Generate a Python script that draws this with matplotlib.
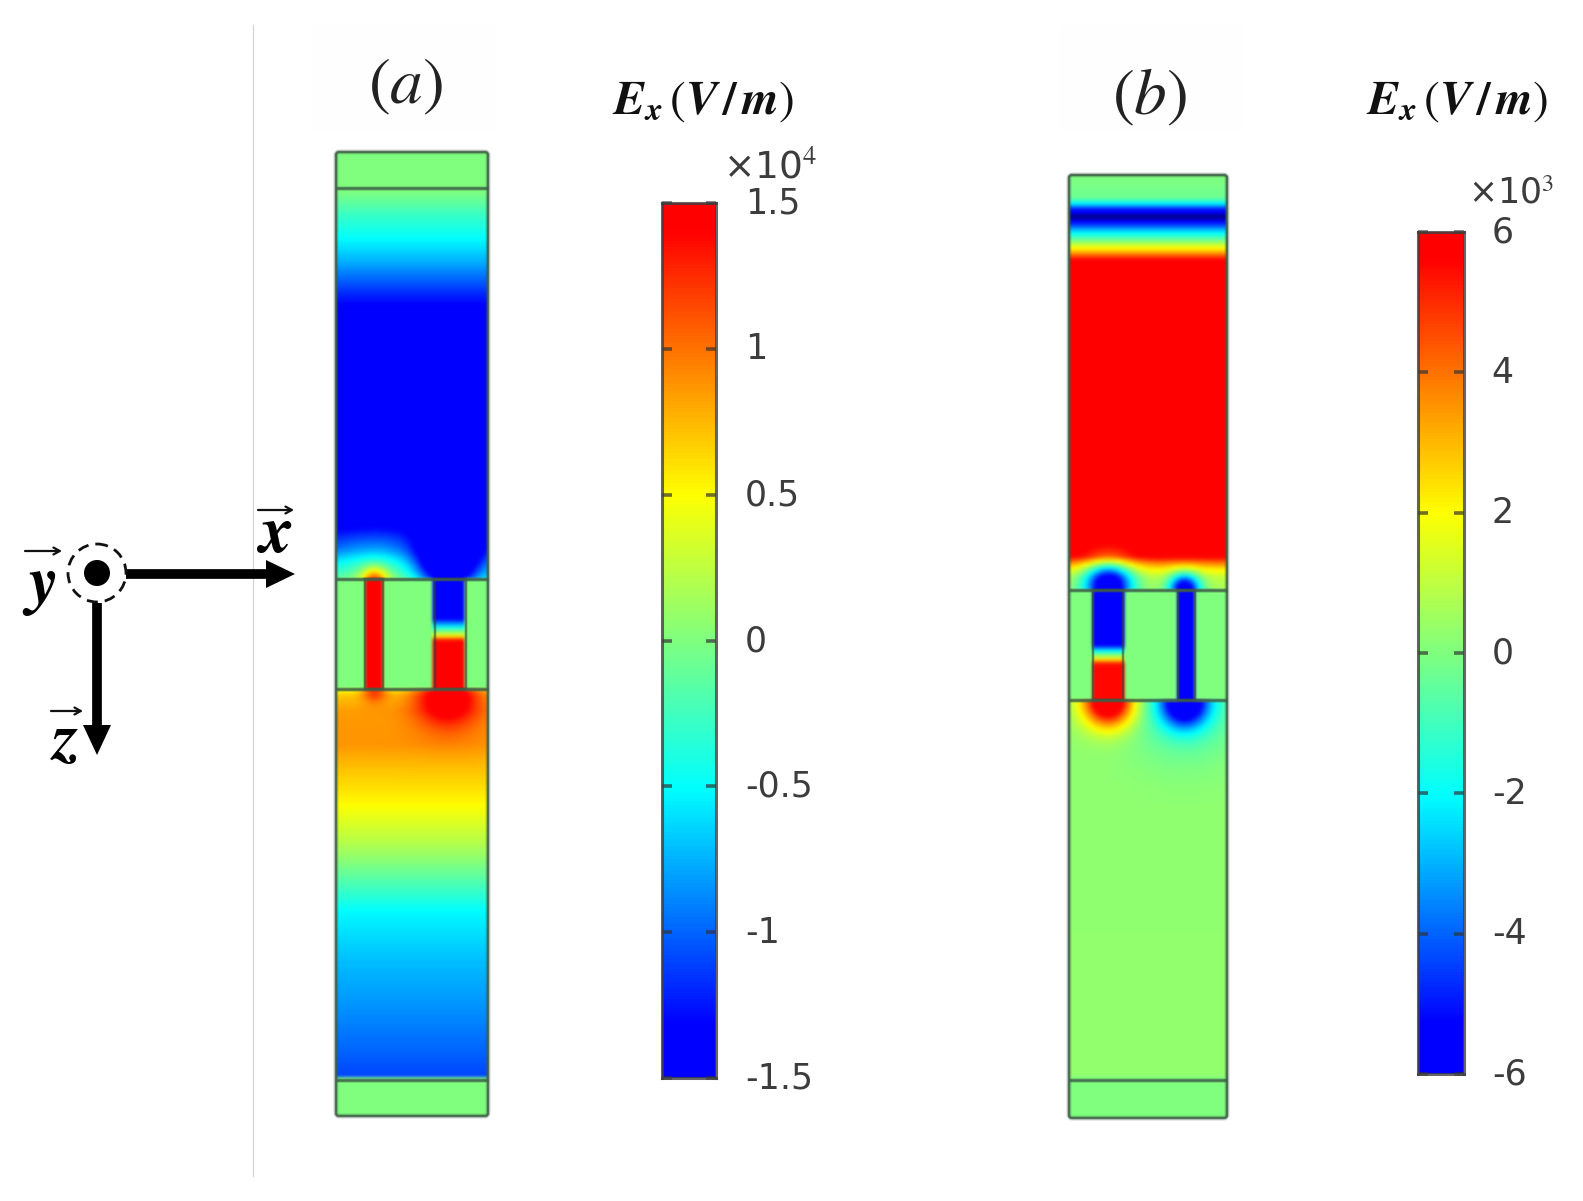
import numpy as np
import matplotlib
matplotlib.use("Agg")
import matplotlib.pyplot as plt
from matplotlib.colors import LinearSegmentedColormap
from matplotlib.patches import Circle, FancyBboxPatch, Rectangle
from matplotlib.transforms import ScaledTranslation

W, H = 1583, 1201
plt.rcParams['mathtext.fontset'] = 'stix'

# ---------- data (depth z, field value) ----------
A_Z = [152, 188, 195, 215, 235, 260, 290, 310, 330, 515, 530, 550, 565, 579]
A_V = [0, 0, -0.05, -0.3, -0.48, -0.75, -1.15, -1.4, -1.5, -1.5, -1.38, -1.05, -0.65, -0.35]
A_LOW_Z = [689, 697, 712, 745, 770, 808, 855, 885, 915, 960, 1010, 1060, 1079]
A_LOW_V = [0.42, 0.7, 0.85, 0.88, 0.72, 0.5, 0.12, -0.2, -0.52, -0.7, -0.85, -1.02, -1.1]
A_SLIT1_Z = [579, 689]
A_SLIT1_V = [1.5, 1.5]
A_SLIT2_Z = [579, 618, 628, 637, 642, 689]
A_SLIT2_V = [-1.5, -1.5, -0.5, 0.5, 1.5, 1.5]
A_BUMPS_UP = [(374, 581, 1.05, 9), (374, 581, 0.45, 30), (450, 563, -1.7, 21)]
A_BUMPS_LOW = [(374, 689, 0.7, 9), (449, 692, 1.1, 23)]
A_TICKS = [-1.5, -1, -0.5, 0, 0.5, 1, 1.5]
A_TICKLABELS = ['-1.5', '-1', '-0.5', '0', '0.5', '1', '1.5']

B_Z = [175, 197, 203, 208, 215, 222, 230, 238, 245, 250, 255, 260, 557, 563, 570, 578, 590]
B_V = [0, -0.3, -2.5, -5, -7, -5, -2.5, -0.5, 1.5, 2.8, 4.5, 6, 6, 4, 2.2, 1.0, 0.6]
B_LOW_Z = [700, 1079]
B_LOW_V = [0.25, 0.3]
B_SLIT1_Z = [590, 645, 652, 660, 665, 700]
B_SLIT1_V = [-6, -6, -2, 2, 5.5, 5.5]
B_SLIT2_Z = [590, 700]
B_SLIT2_V = [-6, -6]
B_BUMPS_UP = [(1108, 586, -8.0, 17), (1186, 590, -7.5, 11)]
B_BUMPS_LOW = [(1108, 702, 8.0, 18), (1186, 704, -7.0, 17), (1186, 704, -1.5, 38)]
B_TICKS = [-6, -4, -2, 0, 2, 4, 6]
B_TICKLABELS = ['-6', '-4', '-2', '0', '2', '4', '6']

cmap = LinearSegmentedColormap.from_list('rainbow_comsol', [
    (0.0, (0.0, 0.0, 1.0)), (0.06, (0.0, 0.0, 1.0)), (0.33, (0.0, 1.0, 1.0)),
    (0.5, (0.5, 1.0, 0.5)), (0.667, (1.0, 1.0, 0.0)), (0.97, (1.0, 0.0, 0.0)), (1.0, (1.0, 0.0, 0.0))])
cmap.set_under((0.0, 0.0, 0.62))

GRAY = '#3c3c3c'
EDGE = '#3f5f48'


def axes_px(x0, y0, x1, y1, **kw):
    return fig.add_axes([x0 / W, 1 - y1 / H, (x1 - x0) / W, (y1 - y0) / H], **kw)


def field(xb, zb, iface, up, low, slits, bup, blow, vmax):
    xs = np.arange(xb[0], xb[1] + 3, 3.0)
    zs = np.arange(zb[0], zb[1] + 3, 3.0)
    X, Z = np.meshgrid(xs, zs)
    F = np.zeros_like(X)
    P = np.zeros_like(X)
    top = Z < iface[0]
    mid = (Z >= iface[0]) & (Z <= iface[1])
    bot = (Z > iface[1]) & (Z <= iface[2])
    P[top] = np.interp(Z[top], up[0], up[1])
    P[bot] = np.interp(Z[bot], low[0], low[1])
    F += P
    for (bx, bz, a, s) in bup:
        F[top] += (a * np.exp(-((X - bx) ** 2 + (Z - bz) ** 2) / (2 * s ** 2)))[top]
    for (bx, bz, a, s) in blow:
        F[bot] += (a * np.exp(-((X - bx) ** 2 + (Z - bz) ** 2) / (2 * s ** 2)))[bot]
    for (sx0, sx1, sz, sv) in slits:
        m = mid & (X >= sx0) & (X <= sx1)
        F[m] = np.interp(Z[m], sz, sv)
    F = np.maximum(np.minimum(F, vmax), np.minimum(P, -vmax))
    return F


def panel(box, iface, extra_line, up, low, slits, bup, blow, vmax):
    x0, y0, x1, y1 = box
    ax = axes_px(x0 - 6, y0 - 6, x1 + 6, y1 + 6)
    F = field((x0, x1), (y0, y1), iface, up, low,
              [(s[0], s[1], s[2], s[3]) for s in slits], bup, blow, vmax)
    ax.imshow(F, extent=(x0, x1, y1, y0), cmap=cmap, vmin=-vmax, vmax=vmax,
              interpolation='bicubic', aspect='auto')
    ax.set_xlim(x0 - 6, x1 + 6)
    ax.set_ylim(y1 + 6, y0 - 6)
    ax.axis('off')
    for lw, alpha in [(3.6, 0.25), (1.8, 0.85)]:
        ax.add_patch(FancyBboxPatch((x0, y0), x1 - x0, y1 - y0,
                                    boxstyle='round,pad=0,rounding_size=3',
                                    fc='none', ec=EDGE, lw=lw, alpha=alpha))
        for zl in list(iface[:2]) + extra_line:
            ax.plot([x0, x1], [zl, zl], color=EDGE, lw=lw, alpha=alpha, solid_capstyle='butt')
        for s in slits:
            ax.add_patch(Rectangle((s[0], iface[0]), s[1] - s[0], iface[1] - iface[0], fc='none',
                                   ec='#2f3f2f', lw=lw * 0.8, alpha=alpha * 0.6))
    return ax


def colorbar(box, vmax, ticks, labels, pad):
    x0, y0, x1, y1 = box
    ax = axes_px(x0, y0, x1, y1)
    g = np.linspace(-vmax, vmax, 256).reshape(-1, 1)
    ax.imshow(g, extent=(0, 1, -vmax, vmax), origin='lower', cmap=cmap, vmin=-vmax, vmax=vmax,
              aspect='auto')
    ax.set_xticks([])
    ax.set_yticks(ticks)
    ax.set_yticklabels(labels)
    ax.yaxis.set_ticks_position('both')
    ax.tick_params(axis='y', direction='in', length=7, width=2.6, color=(0.2, 0.2, 0.2, 0.7),
                   left=True, right=True, labelleft=False, labelright=True, labelsize=25,
                   labelcolor=GRAY, pad=pad)
    shift = ScaledTranslation(0, 3 / 100, fig.dpi_scale_trans)
    for lab in ax.get_yticklabels():
        lab.set_transform(lab.get_transform() + shift)
    for sp in ax.spines.values():
        sp.set_color((0.25, 0.25, 0.25, 0.8))
        sp.set_linewidth(2.2)
    return ax


fig = plt.figure(figsize=(W / 100, H / 100), dpi=100, facecolor='white')

# faint background pieces
bg = axes_px(0, 0, W, H)
bg.set_xlim(0, W)
bg.set_ylim(H, 0)
bg.axis('off')
bg.plot([253, 253], [25, 1176], color='#d4d4d4', lw=0.9)
bg.add_patch(Rectangle((312, 25), 185, 105, fc='#fefefe', ec='none'))
bg.add_patch(Rectangle((1058, 25), 185, 105, fc='#fefefe', ec='none'))

panel((336, 152, 488, 1116), (579, 689, 1079), [188, 1080],
      (A_Z, A_V), (A_LOW_Z, A_LOW_V),
      [(365, 383, A_SLIT1_Z, A_SLIT1_V), (435, 466, A_SLIT2_Z, A_SLIT2_V)],
      A_BUMPS_UP, A_BUMPS_LOW, 1.5)
panel((1069, 175, 1227, 1118), (590, 700, 1079), [1080],
      (B_Z, B_V), (B_LOW_Z, B_LOW_V),
      [(1093, 1123, B_SLIT1_Z, B_SLIT1_V), (1178, 1195, B_SLIT2_Z, B_SLIT2_V)],
      B_BUMPS_UP, B_BUMPS_LOW, 6)

colorbar((662, 203, 716, 1078), 1.5, A_TICKS, A_TICKLABELS, 21)
colorbar((1418, 232, 1464, 1074), 6, B_TICKS, B_TICKLABELS, 20)

# overlay for text and coordinate triad
ov = axes_px(0, 0, W, H)
ov.set_xlim(0, W)
ov.set_ylim(H, 0)
ov.axis('off')
ov.patch.set_alpha(0)

ov.text(406, 85, r'$(a)$', fontsize=47, ha='center', va='center', color='#222222')
ov.text(1149, 96, r'$(b)$', fontsize=47, ha='center', va='center', color='#222222')
lab = r'$\mathbfit{E_x}\,(\mathbfit{V}\,\mathbf{/}\,\mathbfit{m})$'
ov.text(703, 102, lab, fontsize=34, ha='center', va='center', color='#111111')
ov.text(1457, 102, lab, fontsize=34, ha='center', va='center', color='#111111')

ov.text(770, 168, '×10$^{4}$', fontsize=27, ha='center', va='center', color=GRAY)
ov.text(1511, 194, '×10$^{3}$', fontsize=25, ha='center', va='center', color=GRAY)

# triad
ov.add_patch(Circle((97, 573), 29, fc='white', ec='#111111', lw=2.0, ls=(0, (4, 2.5)), zorder=3))
ov.add_patch(Circle((97, 573), 13, fc='black', ec='none', zorder=4))
ov.plot([126, 270], [574, 574], color='black', lw=7, solid_capstyle='butt')
ov.fill([266, 295, 266], [560, 574, 588], color='black', lw=0)
ov.plot([97, 97], [603, 730], color='black', lw=7, solid_capstyle='butt')
ov.fill([83, 111, 97], [725, 725, 755], color='black', lw=0)

tri = dict(family='STIXGeneral', style='italic', weight='bold', fontsize=48, ha='center',
           va='center', color='black')
ov.text(277, 536, 'x', **tri)
ov.text(43, 586, 'y', **tri)
ov.text(66, 743, 'z', **tri)
for xa, xb, ya in [(258, 294, 510), (25, 62, 551), (51, 83, 711)]:
    ov.annotate('', xy=(xb, ya), xytext=(xa, ya),
                arrowprops=dict(arrowstyle='->,head_length=0.45,head_width=0.25', color='#111111',
                                lw=1.6, shrinkA=0, shrinkB=0))

fig.savefig('out.png', dpi=100)
